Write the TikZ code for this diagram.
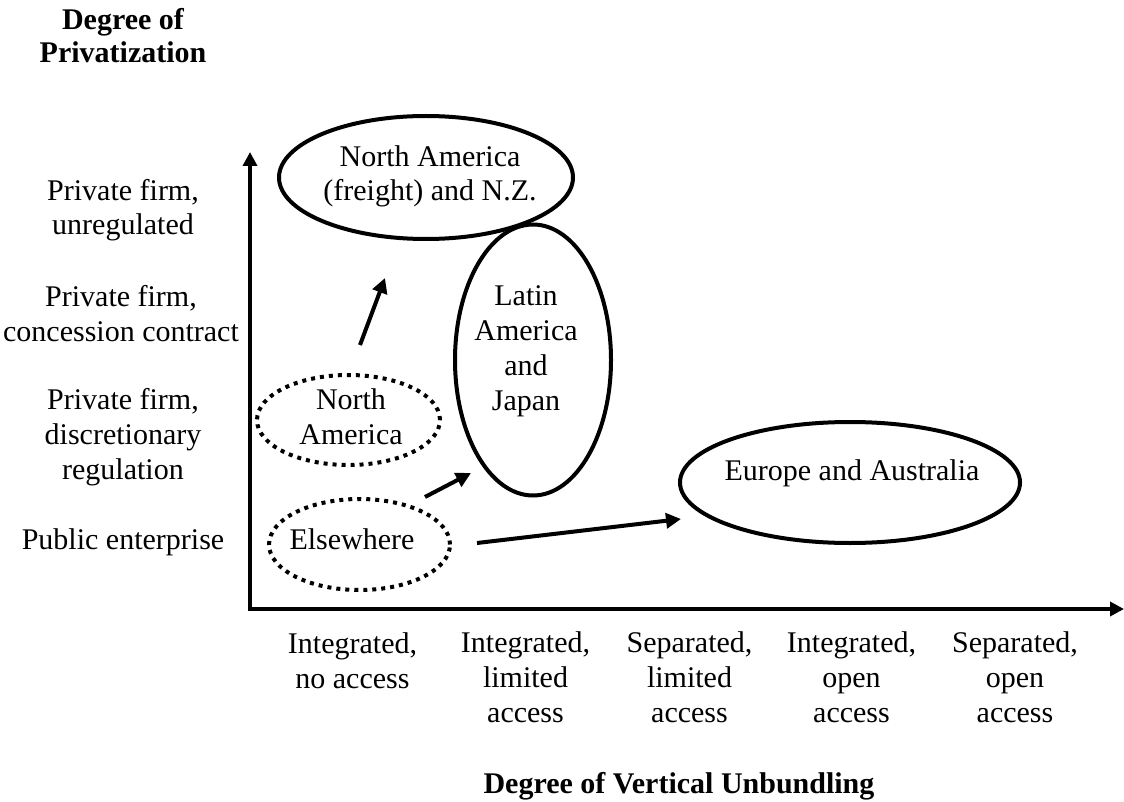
\documentclass[tikz,border=0pt]{standalone}
\usepackage{fontspec}
\setmainfont{Liberation Serif}
\usetikzlibrary{shapes.geometric,arrows.meta}
\begin{document}
\begin{tikzpicture}[x=1pt,y=-1pt,
  lbl/.style={align=center, anchor=base, inner sep=0pt, font=\fontsize{30}{34.7}\selectfont},
  hdr/.style={align=center, anchor=base, inner sep=0pt, font=\fontsize{30}{33.5}\selectfont\bfseries},
  ov/.style={ellipse, draw, line width=4pt, inner sep=0pt},
  dov/.style={ov, dash pattern=on 4pt off 5pt},
  axis/.style={line width=4pt, -{Triangle[length=14pt,width=14pt]}},
  arr/.style={line width=4pt, -{Triangle[length=15pt,width=15pt]}}]
\useasboundingbox (0,0) rectangle (1124,802);
% axes
\coordinate (O) at (250,609);
\coordinate (ytip) at (250,152);
\coordinate (xtip) at (1124,609);
\draw[axis] ([yshift=2pt]O) -- (ytip);
\draw[axis] ([xshift=-2pt]O) -- (xtip);
% headers (anchor = baseline of last line)
\node[hdr] (hy) at (123,63) {Degree of\\Privatization};
\node[hdr] (hx) at (679,793) {Degree of Vertical Unbundling};
% y labels
\node[lbl] (y4) at (123,235) {Private firm,\\unregulated};
\node[lbl] (y3) at (121,341) {Private firm,\\concession contract};
\node[lbl] (y2) at (123,479) {Private firm,\\discretionary\\regulation};
\node[lbl] (y1) at (123,549) {Public enterprise};
% x labels
\node[lbl] (x1) at (352.5,688) {Integrated,\\no access};
\node[lbl] (x2) at (525.5,722) {Integrated,\\limited\\access};
\node[lbl] (x3) at (689.5,722) {Separated,\\limited\\access};
\node[lbl] (x4) at (851.5,722) {Integrated,\\open\\access};
\node[lbl] (x5) at (1015,722) {Separated,\\open\\access};
% ellipses
\node[ov, minimum width=294pt, minimum height=123pt] (naf) at (426,177.5) {};
\node[ov, minimum width=156pt, minimum height=271pt] (laj) at (533,360) {};
\node[ov, minimum width=340pt, minimum height=121pt] (eua) at (850,482.5) {};
\node[dov, minimum width=183pt, minimum height=90pt] (nad) at (348.5,420) {};
\node[dov, minimum width=181pt, minimum height=91pt] (els) at (359.5,544.5) {};
% ellipse texts
\node[lbl] (tnaf) at (430,201) {North America\\(freight) and N.Z.};
\node[lbl] (tlaj) at (526,410) {Latin\\America\\and\\Japan};
\node[lbl] (teua) at (852,480) {Europe and Australia};
\node[lbl] (tnad) at (351,444) {North\\America};
\node[lbl] (tels) at (352,549) {Elsewhere};
% arrows
\coordinate (a1s) at (360,345); \coordinate (a1e) at (385,278);
\coordinate (a2s) at (425,497); \coordinate (a2e) at (471,473);
\coordinate (a3s) at (477,543); \coordinate (a3e) at (681,519);
\draw[arr] (a1s) -- (a1e);
\draw[arr] (a2s) -- (a2e);
\draw[arr] (a3s) -- (a3e);
\end{tikzpicture}
\end{document}
